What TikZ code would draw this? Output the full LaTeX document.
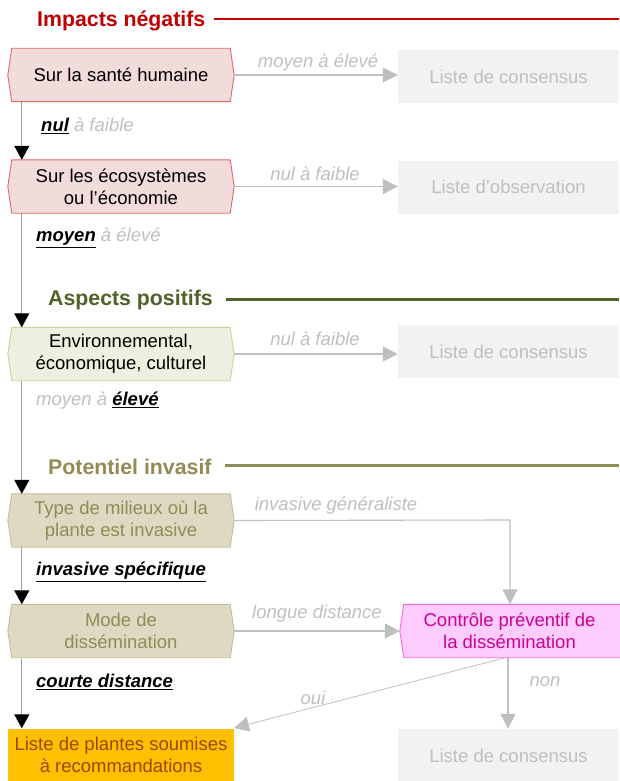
\documentclass[tikz,border=0pt]{standalone}
\usepackage{fontspec}
\setmainfont{Liberation Sans}
\usetikzlibrary{arrows.meta,backgrounds}
\definecolor{redT}{HTML}{C00000}
\definecolor{greenT}{HTML}{4F6228}
\definecolor{tanT}{HTML}{948A54}
\definecolor{redFill}{HTML}{F2DCDB}
\definecolor{redDraw}{HTML}{E06666}
\definecolor{greenFill}{HTML}{EBF1DE}
\definecolor{greenDraw}{HTML}{C3D69B}
\definecolor{tanFill}{HTML}{DDD9C3}
\definecolor{tanDraw}{HTML}{C4BD97}
\definecolor{pinkFill}{HTML}{FFCCFF}
\definecolor{pinkDraw}{HTML}{FF66CC}
\definecolor{pinkText}{HTML}{CC0099}
\definecolor{orangeFill}{HTML}{FFC000}
\definecolor{orangeText}{HTML}{984807}
\definecolor{lightGray}{HTML}{BFBFBF}
\definecolor{boxGray}{HTML}{F2F2F2}
\definecolor{lineGray}{HTML}{A0A0A0}
\newcommand{\hexoutline}[3]{%
  \begin{scope}[on background layer]
  \filldraw[fill=#2,draw=#3,line width=0.9pt]
   ([xshift=4pt]#1.north west) -- ([xshift=-4pt]#1.north east) -- (#1.east)
   -- ([xshift=-4pt]#1.south east) -- ([xshift=4pt]#1.south west) -- (#1.west) -- cycle;
  \end{scope}}
\newcommand{\bb}[1]{\underline{\textbf{\textit{#1}}}}
\begin{document}
\begin{tikzpicture}[x=1pt,y=-1pt,
  boxtext/.style={font=\fontsize{18.5}{22}\selectfont, align=center, inner sep=0pt,
    minimum width=226pt, minimum height=53pt},
  listbox/.style={font=\fontsize{18.5}{22}\selectfont, align=center, inner sep=0pt,
    minimum width=221pt, minimum height=53pt, fill=boxGray, text=lightGray},
  lbl/.style={font=\fontsize{18.5}{22}\selectfont\itshape, text=lightGray, inner sep=0pt},
  title/.style={font=\fontsize{21.3}{24}\selectfont\bfseries, inner sep=0pt, anchor=west},
  mainarrow/.style={draw=lineGray, line width=1.3pt, -{Triangle[length=14pt,width=15pt,color=black]}},
  sidearrow/.style={draw=lightGray, line width=1.1pt, -{Triangle[length=15pt,width=15pt,color=lightGray]}},
]
\useasboundingbox (0,0) rectangle (619,781);

% titles
\node[title, text=redT] (t1) at (37,21) {Impacts négatifs};
\coordinate (t1end) at (619,19);
\draw[redT, line width=2pt] ([xshift=9pt]t1.east |- t1end) -- (t1end);
\node[title, text=greenT] (t2) at (48,300) {Aspects positifs};
\coordinate (t2end) at (619,299);
\draw[greenT, line width=3pt] ([xshift=13pt]t2.east |- t2end) -- (t2end);
\node[title, text=tanT] (t3) at (48,467) {Potentiel invasif};
\coordinate (t3end) at (619,465);
\draw[tanT, line width=3pt] ([xshift=13pt]t3.east |- t3end) -- (t3end);

% main boxes
\node[boxtext] (b1) at (121,75) {Sur la santé humaine};
\hexoutline{b1}{redFill}{redDraw}
\node[boxtext] (b2) at (121,186.5) {Sur les écosystèmes\\ou l’économie};
\hexoutline{b2}{redFill}{redDraw}
\node[boxtext] (b3) at (121,354) {Environnemental,\\économique, culturel};
\hexoutline{b3}{greenFill}{greenDraw}
\node[boxtext, text=tanT] (b4) at (121,520.5) {Type de milieux où la\\plante est invasive};
\hexoutline{b4}{tanFill}{tanDraw}
\node[boxtext, text=tanT] (b5) at (121,631) {Mode de\\dissémination};
\hexoutline{b5}{tanFill}{tanDraw}
\node[boxtext, fill=orangeFill, text=orangeText] (b6) at (121,755) {Liste de plantes soumises\\à recommandations};

% list boxes
\node[listbox] (c1) at (508.5,77) {Liste de consensus};
\node[listbox] (c2) at (508.5,187) {Liste d’observation};
\node[listbox] (c3) at (508.5,351.5) {Liste de consensus};
\node[listbox] (c4) at (508.5,755.5) {Liste de consensus};

% control box
\node[font=\fontsize{18.5}{22}\selectfont, align=center, inner sep=0pt,
  minimum width=219pt, minimum height=53pt, text=pinkText] (ctrl) at (509.5,631)
  {Contrôle préventif de\\la dissémination};
\begin{scope}[on background layer]
\filldraw[fill=pinkFill, draw=pinkDraw, line width=0.9pt]
  ([xshift=4pt]ctrl.north west) -- ([xshift=2pt]ctrl.north east) -- ([xshift=2pt]ctrl.south east)
  -- ([xshift=4pt]ctrl.south west) -- (ctrl.west) -- cycle;
\end{scope}

% main vertical connectors
\draw[mainarrow] ([xshift=14pt]b1.south west) -- ([xshift=14pt]b2.north west);
\draw[mainarrow] ([xshift=14pt]b2.south west) -- ([xshift=14pt]b3.north west);
\draw[mainarrow] ([xshift=14pt]b3.south west) -- ([xshift=14pt]b4.north west);
\draw[mainarrow] ([xshift=14pt]b4.south west) -- ([xshift=14pt]b5.north west);
\draw[mainarrow] ([xshift=14pt]b5.south west) -- ([xshift=14pt]b6.north west);

% left labels
\node[lbl, anchor=west] (l1) at (41,126) {\textcolor{black}{\bb{nul}} à faible};
\node[lbl, anchor=west] (l2) at (36,238) {\textcolor{black}{\bb{moyen}} à élevé};
\node[lbl, anchor=west] (l3) at (36,401) {moyen à \textcolor{black}{\bb{élevé}}};
\node[lbl, anchor=west, text=black] (l4) at (36,572) {\bb{invasive spécifique}};
\node[lbl, anchor=west, text=black] (l5) at (36,682) {\bb{courte distance}};

% side connectors
\draw[sidearrow] (b1.east) -- (c1.west |- b1.east);
\node[lbl] (s1) at (318,63) {moyen à élevé};
\draw[sidearrow] (b2.east) -- (c2.west |- b2.east);
\node[lbl] (s2) at (315,174) {nul à faible};
\draw[sidearrow] (b3.east) -- (c3.west |- b3.east);
\node[lbl] (s3) at (315,339) {nul à faible};
\coordinate (corner) at (510,520);
\draw[sidearrow] (b4.east) -- (corner) -- (corner |- ctrl.north);
\node[lbl] (s4) at (336,506) {invasive généraliste};
\draw[sidearrow] (b5.east) -- (ctrl.west);
\node[lbl] (s5) at (317,614) {longue distance};
\coordinate (ctrlb) at (508,657);
\coordinate (orangetip) at (234,728);
\draw[sidearrow, line width=0.8pt] (ctrlb) -- (orangetip);
\node[lbl] (s6) at (313,698) {oui};
\draw[sidearrow] (ctrlb) -- (ctrlb |- c4.north);
\node[lbl] (s7) at (545,682) {non};
\end{tikzpicture}
\end{document}
